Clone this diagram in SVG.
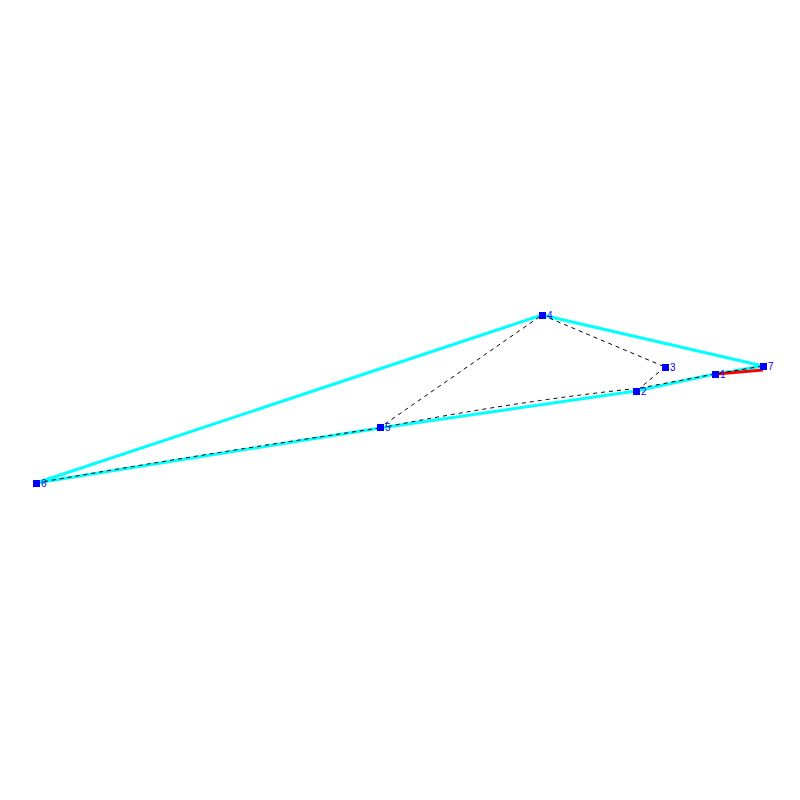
<svg xmlns="http://www.w3.org/2000/svg" width="800" height="800" viewBox="0 0 800 800">
<style>
.hull{fill:none;stroke:#00ffff;stroke-width:3;stroke-linejoin:round}
.dash{fill:none;stroke:#000;stroke-width:1;stroke-dasharray:4,4}
.red{fill:none;stroke:#ff0000;stroke-width:3}
.pt{fill:#0000ff}
.lbl{fill:#0000ff;font-family:"Liberation Sans",Arial,sans-serif;font-size:10px}
</style>
<rect width="800" height="800" fill="#fff"/>
<g id="connectors">
<polyline class="hull" points="36,483 542,315 763,366 715,374 636,391 380,428 36,483"/>
<path class="red" d="M717,374 L763,370"/>
<path class="dash" d="M36,483 Q208,453 380,428"/>
<path class="dash" d="M380,428 Q510,402 640,388"/>
<path class="dash" d="M640,388 L715,374 L763,366"/>
<path class="dash" d="M385,424 L542,315"/>
<path class="dash" d="M542,315 L665,367"/>
<path class="dash" d="M665,367 L640,388"/>
</g>
<g id="node1"><rect class="pt" x="712" y="371" width="7" height="7"/><text class="lbl" x="720" y="378">1</text></g>
<g id="node2"><rect class="pt" x="633" y="388" width="7" height="7"/><text class="lbl" x="641" y="395">2</text></g>
<g id="node3"><rect class="pt" x="662" y="364" width="7" height="7"/><text class="lbl" x="670" y="371">3</text></g>
<g id="node4"><rect class="pt" x="539" y="312" width="7" height="7"/><text class="lbl" x="547" y="319">4</text></g>
<g id="node5"><rect class="pt" x="377" y="424" width="7" height="7"/><text class="lbl" x="385" y="431">5</text></g>
<g id="node6"><rect class="pt" x="33" y="480" width="7" height="7"/><text class="lbl" x="41" y="487">6</text></g>
<g id="node7"><rect class="pt" x="760" y="363" width="7" height="7"/><text class="lbl" x="768" y="370">7</text></g>
</svg>
